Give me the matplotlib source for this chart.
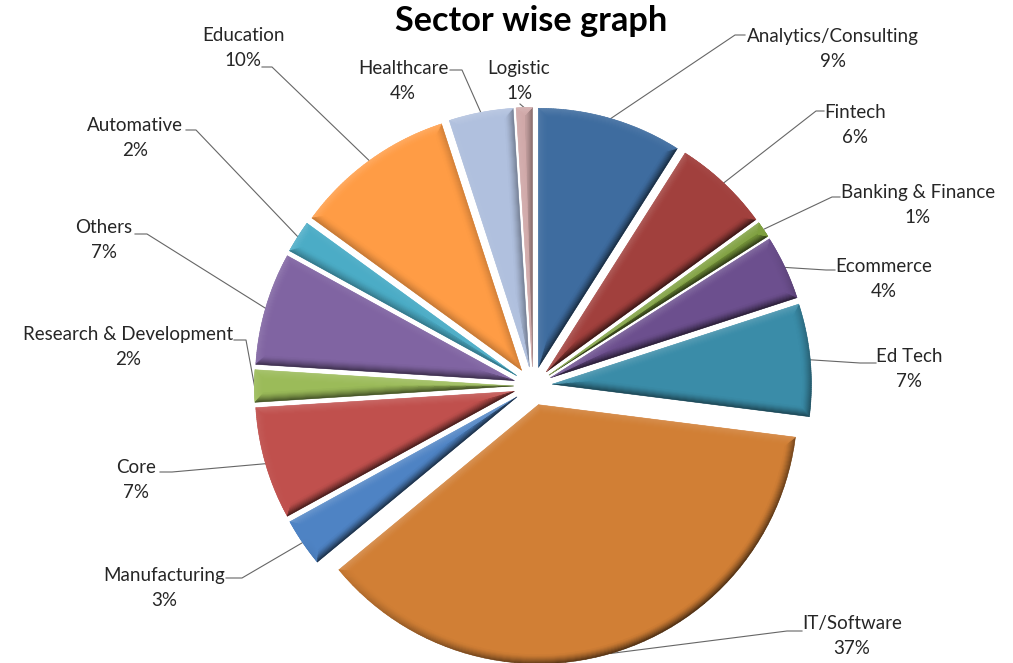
import numpy as np
import matplotlib
matplotlib.use("Agg")
import matplotlib.pyplot as plt
from matplotlib.collections import PolyCollection
from matplotlib.colors import to_rgb

W, H = 1013, 663

sectors = ["Analytics/Consulting", "Fintech", "Banking & Finance", "Ecommerce", "Ed Tech",
           "IT/Software", "Manufacturing", "Core", "Research & Development", "Others",
           "Automative", "Education", "Healthcare", "Logistic"]
shares = [9, 6, 1, 4, 7, 37, 3, 7, 2, 7, 2, 10, 4, 1]
colors = ["#3E6C9F", "#A1403D", "#7FA03F", "#6C4F8E", "#3A8CA8",
          "#D17F35", "#4E83C4", "#C0504D", "#9BBB59", "#8064A2",
          "#4BACC6", "#FF9C45", "#B0C0DE", "#D0A8A8"]

# label centre and the knee of the leader line, in pixels from the top left
label_xy = [(833, 49), (855, 125), (918, 205), (884, 279), (909, 369),
            (852, 636), (164, 588), (136, 480), (128, 347), (104, 240),
            (135, 138), (243, 48), (403, 81), (519, 81)]
knee_xy = [(735, 35), (816, 111), (832, 197), (826, 270), (860, 363),
           (787, 631), (242, 578), (172, 472), (246, 340), (147, 234),
           (196, 130), (272, 67), (462, 70), (520, 104)]
tail_xy = [(745, 35), (824, 111), (840, 197), (835, 270), (876, 363),
           (802, 631), (226, 578), (160, 472), (234, 340), (135, 234),
           (186, 130), (262, 67), (450, 70), (520, 104)]


def up(p):
    return p[0], H - p[1]


def wedge_outline(w, d, n=60):
    # outline of a wedge pulled in by d on every side, None once it has closed up
    half = np.radians(w.theta2 - w.theta1) / 2
    mid = np.radians(w.theta1 + w.theta2) / 2
    rr = w.r - d
    if rr <= 0 or d / rr >= 1:
        return None
    da = np.arcsin(d / rr)
    a1, a2 = np.radians(w.theta1) + da, np.radians(w.theta2) - da
    if a2 <= a1:
        return None
    cx, cy = w.center
    tip = (cx + d / np.sin(half) * np.cos(mid), cy + d / np.sin(half) * np.sin(mid))
    ang = np.linspace(a1, a2, n)
    arc = np.column_stack([cx + rr * np.cos(ang), cy + rr * np.sin(ang)])
    return np.vstack([tip, arc])


def add_bevel(ax, w, width=9):
    # lit on the upper left, dark towards the lower right, fading inwards
    base = np.array(to_rgb(w.get_facecolor()[:3]))
    light = np.array([-0.55, 0.83])
    for i in range(width):
        outer = wedge_outline(w, i)
        inner = wedge_outline(w, i + 1)
        if outer is None or inner is None:
            break
        polys, cols = [], []
        fade = (1 - i / width) ** 1.4
        for j in range(len(outer)):
            k = (j + 1) % len(outer)
            edge = outer[k] - outer[j]
            # outline runs counterclockwise, so the outward normal is (dy, -dx)
            normal = np.array([edge[1], -edge[0]]) / (np.hypot(*edge) + 1e-9)
            s = normal @ light
            if s < 0:
                c = base * (1 + 0.65 * s * fade)
            else:
                c = base + (1 - base) * 0.16 * s * fade
            polys.append([outer[j], outer[k], inner[k], inner[j]])
            cols.append(np.clip(c, 0, 1))
        ax.add_collection(PolyCollection(polys, facecolors=cols, edgecolors=cols,
                                         linewidths=0.4, zorder=3))


fig = plt.figure(figsize=(W / 100, H / 100), dpi=100)
ax = fig.add_axes([0, 0, 1, 1])

# explode is added straight onto the wedge centre, so it is in pixels here
wedges, _ = ax.pie(shares, colors=colors, radius=259, center=(533, H - 386),
                   startangle=90, counterclock=False, explode=[19.5] * len(shares))
ax.set_xlim(0, W)
ax.set_ylim(0, H)
ax.set_aspect("equal")

for w in wedges:
    w.set_zorder(2)
    add_bevel(ax, w)

for w, name, share, lab, knee, tail in zip(wedges, sectors, shares, label_xy, knee_xy, tail_xy):
    mid = np.radians(w.theta1 + w.theta2) / 2
    start = (w.center[0] + w.r * np.cos(mid), w.center[1] + w.r * np.sin(mid))
    kx, ky = up(knee)
    tx, ty = up(tail)
    ax.plot([start[0], kx, tx], [start[1], ky, ty], color="#666666", lw=0.8, zorder=1)
    x, y = up(lab)
    ax.text(x, y, f"{name}\n{share}%", ha="center", va="center", fontsize=13.5,
            family="Lato", color="#262626", linespacing=1.53, zorder=5)

ax.text(531, H - 21, "Sector wise graph", ha="center", va="center", fontsize=24.7,
        family="Lato", fontweight="bold", color="black", zorder=5)

fig.savefig("out.png", dpi=100)
